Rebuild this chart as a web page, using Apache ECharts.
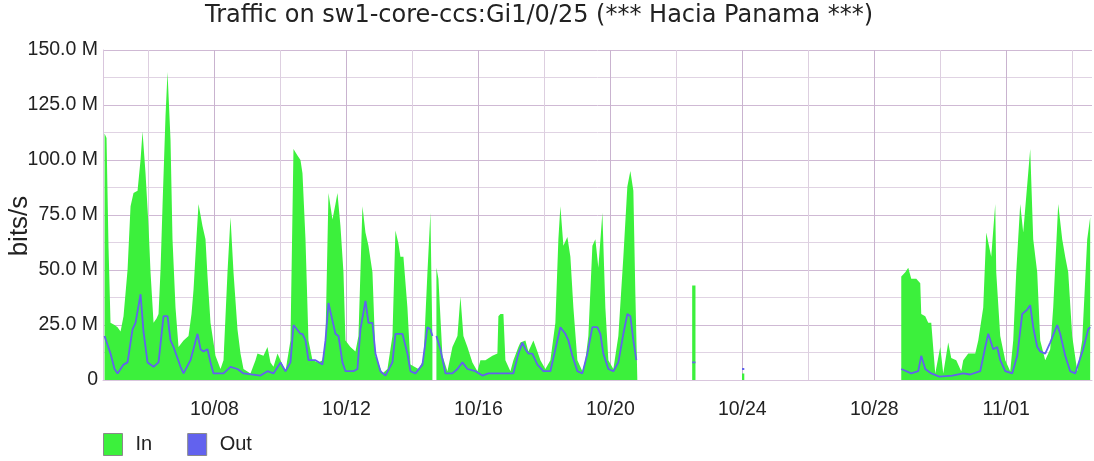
<!DOCTYPE html>
<html>
<head>
<meta charset="utf-8">
<script src="https://cdn.jsdelivr.net/npm/echarts@6/dist/echarts.min.js"></script>
<style>
html,body{margin:0;padding:0;background:#fff;}
#chart{width:1094px;height:461px;}
</style>
</head>
<body>
<div id="chart"></div>
<script>
// x values: fractional day of October (32 = 11/01); y values: Mbit/s; null = no data
const titleText = 'Traffic on sw1-core-ccs:Gi1/0/25 (*** Hacia Panama ***)';
const seriesNames = ['In', 'Out'];
const yTickValues = [0, 25, 50, 75, 100, 125, 150];
const xLabelDays = [8, 12, 16, 20, 24, 28, 32];
const xGridDays = [6, 8, 10, 12, 14, 16, 18, 20, 22, 24, 26, 28, 30, 32, 34];

const inDays = [
  4.667, 4.727, 4.788, 4.848, 4.970, 5.061, 5.152, 5.242, 5.364, 5.455, 5.545, 5.667, 5.758, 5.818, 5.909,
  6.000, 6.061, 6.152, 6.242, 6.303, 6.364, 6.424, 6.515, 6.576, 6.667, 6.727, 6.818, 6.909, 7.061, 7.212,
  7.303, 7.364, 7.455, 7.515, 7.636, 7.727, 7.788, 7.879, 8.030, 8.182, 8.273, 8.394, 8.485, 8.576, 8.697,
  8.788, 8.879, 9.091, 9.242, 9.303, 9.485, 9.606, 9.697, 9.788, 9.909, 10.000, 10.152, 10.303, 10.394, 10.515,
  10.606, 10.667, 10.758, 10.848, 10.970, 11.152, 11.273, 11.364, 11.455, 11.576, 11.667, 11.727, 11.818, 11.909, 11.970,
  12.121, 12.273, 12.364, 12.485, 12.576, 12.667, 12.788, 12.879, 13.091, 13.242, 13.394, 13.485, 13.576, 13.636, 13.727,
  13.848, 13.939, 14.182, 14.333, 14.455, 14.545, 14.606, 14.650, 14.727, 14.788, 14.909, 15.061, 15.212, 15.364, 15.455,
  15.545, 15.667, 15.818, 15.970, 16.061, 16.212, 16.424, 16.576, 16.606, 16.667, 16.758, 16.818, 16.970, 17.061, 17.212,
  17.273, 17.424, 17.515, 17.667, 17.788, 17.879, 18.030, 18.182, 18.333, 18.424, 18.485, 18.576, 18.697, 18.788, 18.879,
  19.000, 19.152, 19.242, 19.333, 19.455, 19.545, 19.636, 19.758, 19.848, 19.939, 20.091, 20.242, 20.394, 20.515, 20.606,
  20.697, 20.758, 20.818, 20.850,
  22.480, 22.580, 22.600,
  23.990, 24.060, 24.080,
  28.818, 28.939, 29.030, 29.121, 29.273, 29.394, 29.424, 29.545, 29.636, 29.727, 29.848, 30.000, 30.091, 30.242, 30.333,
  30.485, 30.636, 30.697, 30.848, 31.061, 31.152, 31.303, 31.394, 31.545, 31.667, 31.697, 31.818, 31.970, 32.121, 32.212,
  32.303, 32.424, 32.515, 32.727, 32.818, 32.939, 33.030, 33.182, 33.333, 33.424, 33.576, 33.697, 33.788, 33.879, 34.000,
  34.152, 34.303, 34.455, 34.545
];
const inMbps = [
  112, 110, 60, 26, 25, 24, 22, 29, 50, 79, 85, 86, 100, 113, 94,
  70, 49, 26, 28, 30, 50, 79, 120, 140, 109, 64, 33, 15, 18, 20,
  30, 41, 65, 80, 70, 64, 47, 26, 11, 5, 9, 49, 74, 49, 23,
  12, 5, 3, 9, 12, 11, 15, 8, 6, 12, 9, 4, 18, 105, 102,
  100, 94, 64, 18, 9, 8, 9, 18, 85, 73, 80, 85, 70, 49, 18,
  15, 13, 20, 79, 67, 61, 49, 11, 3, 5, 20, 68, 62, 56, 56,
  33, 7, 5, 9, 49, 76, 18, null, 51, 46, 11, 4, 15, 20, 38,
  20, 15, 8, 4, 9, 9, 11, 12, 29, 30, 30, 9, 4, 9, 15,
  17, 18, 13, 18, 13, 9, 5, 9, 26, 64, 79, 61, 65, 56, 33,
  9, 4, 9, 20, 61, 64, 51, 76, 33, 9, 5, 20, 56, 88, 95,
  86, 39, 39, null,
  43, 43, null,
  3, 3, null,
  47, 49, 51, 46, 46, 44, 30, 29, 26, 26, 3, 15, 3, 17, 10,
  9, 4, 9, 12, 12, 18, 33, 67, 56, 80, 49, 20, 9, 4, 18,
  49, 80, 67, 105, 64, 49, 18, 9, 14, 33, 80, 64, 56, 49, 20,
  4, 18, 64, 74
];

const outDays = [
  4.667, 4.727, 4.848, 4.970, 5.061, 5.152, 5.242, 5.364, 5.515, 5.606, 5.758, 5.848, 5.970, 6.152, 6.303,
  6.455, 6.576, 6.667, 6.758, 6.970, 7.061, 7.273, 7.485, 7.576, 7.667, 7.788, 7.879, 7.970, 8.273, 8.485,
  8.697, 8.879, 9.394, 9.606, 9.788, 10.000, 10.152, 10.303, 10.394, 10.606, 10.667, 10.758, 10.848, 11.061, 11.273,
  11.364, 11.455, 11.576, 11.667, 11.758, 11.879, 11.970, 12.212, 12.333, 12.424, 12.576, 12.667, 12.788, 12.879, 13.030,
  13.182, 13.394, 13.485, 13.697, 13.848, 13.939, 14.091, 14.303, 14.455, 14.545, 14.606, 14.650, 14.727, 14.848, 15.000,
  15.212, 15.364, 15.515, 15.667, 15.909, 16.121, 16.303, 17.061, 17.212, 17.333, 17.424, 17.515, 17.636, 17.788, 17.970,
  18.182, 18.333, 18.485, 18.636, 18.727, 18.848, 19.000, 19.152, 19.303, 19.455, 19.606, 19.697, 19.788, 19.939, 20.091,
  20.242, 20.394, 20.515, 20.606, 20.697, 20.788, 20.850,
  22.480, 22.580, 22.600,
  23.990, 24.060, 24.080,
  28.818, 29.121, 29.333, 29.424, 29.545, 29.727, 29.970, 30.364, 30.697, 30.909, 31.212, 31.364, 31.455, 31.606, 31.727,
  31.818, 31.970, 32.182, 32.333, 32.485, 32.636, 32.727, 32.818, 32.939, 33.030, 33.182, 33.333, 33.545, 33.636, 33.788,
  33.939, 34.091, 34.333, 34.485, 34.545
];
const outMbps = [
  20, 20, 12, 5, 3, 5, 7, 8, 23, 26, 39, 22, 8, 6, 8,
  29, 29, 18, 15, 6, 3, 9, 21, 14, 13, 14, 8, 3, 3, 6,
  5, 3, 2, 4, 3, 8, 4, 8, 25, 21, 21, 18, 9, 9, 7,
  18, 35, 27, 21, 20, 8, 4, 4, 5, 23, 36, 26, 26, 12, 4,
  2, 8, 21, 21, 12, 4, 3, 7, 24, 23, 20, null, 20, 14, 3,
  3, 5, 8, 5, 4, 2, 3, 3, 12, 17, 14, 12, 12, 7, 4,
  4, 14, 24, 21, 18, 11, 4, 3, 12, 24, 24, 21, 12, 5, 4,
  8, 21, 30, 29, 18, 9, null,
  8, 8, null,
  5, 5, null,
  5, 3, 4, 11, 5, 3, 1.5, 2, 3, 2.5, 4, 15, 21, 14, 15,
  9, 4, 3, 11, 30, 32, 34, 24, 15, 13, 12, 17, 25, 21, 11,
  4, 3, 14, 23, 24
];

function pairs(xs, ys) {
  return xs.map((x, i) => [x, ys[i] === null ? '-' : ys[i]]);
}
function dayLabel(d) {
  const r = Math.round(d);
  const m = r > 31 ? 11 : 10;
  const dd = r > 31 ? r - 31 : r;
  return (m < 10 ? '0' + m : '' + m) + '/' + (dd < 10 ? '0' + dd : '' + dd);
}

const chart = echarts.init(document.getElementById('chart'), null, {renderer: 'canvas'});
const font = 'Liberation Sans';
chart.setOption({
  animation: false,
  backgroundColor: '#ffffff',
  title: {
    text: titleText,
    left: 205,
    top: 4,
    padding: 0,
    textStyle: {fontFamily: 'DejaVu Sans', fontSize: 24, fontWeight: 'normal', color: '#222'}
  },
  legend: {
    left: 103,
    top: 433,
    padding: 0,
    icon: 'rect',
    itemWidth: 19,
    itemHeight: 22,
    itemGap: 35,
    itemStyle: {borderColor: '#8a8a8a', borderWidth: 1},
    textStyle: {fontFamily: font, fontSize: 20, color: '#222', padding: [0, 0, 0, 8]},
    data: seriesNames
  },
  grid: {left: 103, right: 2, top: 50, bottom: 81, containLabel: false, outerBoundsMode: 'none'},
  xAxis: {
    type: 'value',
    min: 4.62,
    max: 34.6,
    axisLine: {show: true, onZero: false, lineStyle: {color: '#d9c6dd', width: 1}},
    axisTick: {show: true, customValues: xGridDays, length: 0, lineStyle: {color: 'rgba(0,0,0,0)'}},
    axisLabel: {
      customValues: xLabelDays,
      formatter: v => dayLabel(v),
      fontFamily: font, fontSize: 19.5, color: '#222', margin: 20
    },
    splitLine: {show: true, lineStyle: {color: ['#ddcfe0', '#c9b3cf'], width: 1}}
  },
  yAxis: {
    type: 'value',
    min: 0,
    max: 150,
    interval: 12.5,
    name: 'bits/s',
    nameLocation: 'middle',
    nameGap: 70,
    nameMoveOverlap: false,
    nameRotate: 90,
    nameTextStyle: {fontFamily: font, fontSize: 26, color: '#222', padding: [0, 22, 0, 0]},
    axisLine: {show: true, lineStyle: {color: '#d9c6dd'}},
    axisTick: {show: false},
    axisLabel: {
      fontFamily: font, fontSize: 19.5, color: '#222', margin: 5,
      formatter: v => (yTickValues.indexOf(v) === -1 ? '' : (v === 0 ? '0' : v.toFixed(1) + ' M'))
    },
    splitLine: {show: true, lineStyle: {color: ['#cfb9d4', '#e0d3e3'], width: 1}}
  },
  series: [
    {
      name: seriesNames[0],
      type: 'line',
      data: pairs(inDays, inMbps),
      showSymbol: false,
      symbol: 'none',
      connectNulls: false,
      lineStyle: {width: 0},
      itemStyle: {color: '#3cf03c'},
      areaStyle: {color: '#3cf03c', opacity: 1},
      z: 2
    },
    {
      name: seriesNames[1],
      type: 'line',
      data: pairs(outDays, outMbps),
      showSymbol: false,
      symbol: 'none',
      connectNulls: false,
      lineStyle: {width: 1.8, color: '#6262ee'},
      itemStyle: {color: '#6262ee'},
      z: 3
    }
  ]
});
</script>
</body>
</html>
